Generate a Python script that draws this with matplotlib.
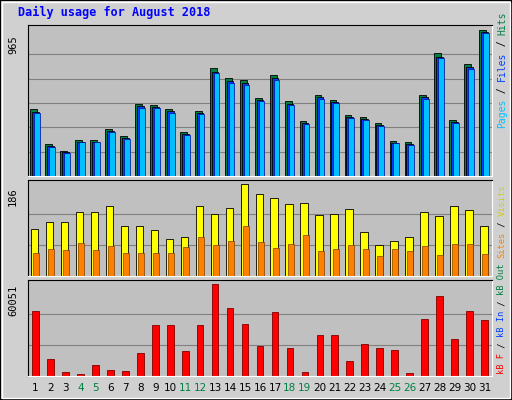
import matplotlib
matplotlib.use("Agg")
import matplotlib.pyplot as plt
from matplotlib.patches import Rectangle

days = list(range(1, 32))
hits = [446,213,166,240,240,313,266,479,472,446,293,433,712,646,632,519,666,493,366,539,506,406,393,353,233,226,539,812,373,739,965]
files = [426,200,156,226,226,298,252,460,455,428,278,416,690,626,612,500,645,475,350,520,488,390,378,338,220,212,520,790,358,718,955]
pages = [420,195,152,222,222,292,248,452,448,420,272,410,682,618,604,494,636,468,344,512,480,384,372,332,216,208,512,782,352,710,948]
visits = [94,108,108,128,128,141,100,100,92,75,78,141,124,137,186,165,157,145,147,122,124,135,88,63,71,78,128,120,141,133,100]
sites = [47,55,53,67,53,61,47,47,47,47,59,78,63,71,100,69,57,65,82,51,55,63,55,41,55,51,61,43,65,65,45]
kbytes = [42240,11220,2640,1320,7260,3960,3300,15180,33000,33000,16500,33000,60051,44220,33660,19800,41580,18480,2640,26400,26400,9900,21120,18480,17160,1980,36960,52140,23760,42240,36300]
weekend = [4,5,11,12,18,19,25,26]

W, H = 512, 400
fig = plt.figure(figsize=(W/100, H/100), dpi=100)
fig.patch.set_facecolor("#d0d0d0")
fig.add_artist(Rectangle((0,0),1,1,transform=fig.transFigure,fill=False,ec="black",lw=1.5))
fig.add_artist(Rectangle((2/W,2/H),1-4/W,1-4/H,transform=fig.transFigure,fill=False,ec="white",lw=1))

def ax_at(x0,y0,x1,y1):
    a = fig.add_axes([x0/W, 1-y1/H, (x1-x0)/W, (y1-y0)/H])
    a.set_facecolor("#c0c0c0")
    for s in a.spines.values():
        s.set_color("black")
    a.spines["right"].set_color("white"); a.spines["bottom"].set_color("white")
    a.set_xlim(0.5, 31.5)
    a.set_xticks([]); a.set_yticks([])
    return a

mono = dict(family="DejaVu Sans Mono")
a1 = ax_at(28,25,492,176)
a1.set_ylim(0, 965*1.035)
for g in [965*k/6 for k in range(1,6)]:
    a1.axhline(g, color="#808080", lw=0.8, zorder=0)
a1.bar([d-0.12 for d in days], hits, 0.45, color="#008040", ec="black", lw=0.6, zorder=2)
a1.bar([d+0.0 for d in days], files, 0.45, color="#0040ff", ec="black", lw=0.6, zorder=3)
a1.bar([d+0.1 for d in days], pages, 0.38, color="#00c0ff", ec="#0000a0", lw=0.5, zorder=4)
fig.text(8/W, 1-45/H, "965", rotation=90, fontsize=7.5, va="center", ha="left", **mono)

a2 = ax_at(28,180,492,276)
a2.set_ylim(0, 186*1.04)
for g in [186*k/3 for k in range(1,3)]:
    a2.axhline(g, color="#808080", lw=0.8, zorder=0)
a2.bar([d-0.05 for d in days], visits, 0.5, color="#ffff00", ec="black", lw=0.6, zorder=2)
a2.bar([d+0.05 for d in days], sites, 0.4, color="#ff8000", ec="#804000", lw=0.5, zorder=3)
fig.text(8/W, 1-197/H, "186", rotation=90, fontsize=7.5, va="center", ha="left", **mono)

a3 = ax_at(28,280,492,376)
a3.set_ylim(0, 60051*1.04)
for g in [60051*k/3 for k in range(1,3)]:
    a3.axhline(g, color="#808080", lw=0.8, zorder=0)
a3.bar(days, kbytes, 0.45, color="#ff0000", ec="#800000", lw=0.6, zorder=2)
fig.text(8/W, 1-300/H, "60051", rotation=90, fontsize=7.5, va="center", ha="left", **mono)

for d in days:
    x = 28 + (d-0.5)/31*464
    fig.text(x/W, 1-388/H, str(d), ha="center", va="center", fontsize=7.5,
             color="#008040" if d in weekend else "black")

fig.text(18/W, 1-12/H, "Daily usage for August 2018", color="#0000ff", fontsize=8.5,
         fontweight="bold", va="center", ha="left", **mono)

renderer = fig.canvas.get_renderer()
def vstack(ybottom, parts, fs):
    y = ybottom
    for txt, col in parts:
        t = fig.text(502/W, 1-y/H, txt, rotation=90, color=col, fontsize=fs, ha="center",
                     va="bottom", **mono)
        if txt.strip():
            pass
        h = fs*0.6*len(txt)*100/72
        y -= h
vstack(128, [("Pages", "#00c0ff"), (" / ", "black"), ("Files", "#0040ff"), (" / ", "black"), ("Hits", "#008040")], 7)
vstack(374, [("kB F", "#ff0000"), (" / ", "black"), ("kB In", "#0040ff"), (" / ", "black"),
             ("kB Out", "#008040"), (" ", "black"), ("Sites", "#ff8000"), (" / ", "black"), ("Visits", "#d0d000")], 6.3)

fig.savefig("out.png", dpi=100, facecolor=fig.get_facecolor())
